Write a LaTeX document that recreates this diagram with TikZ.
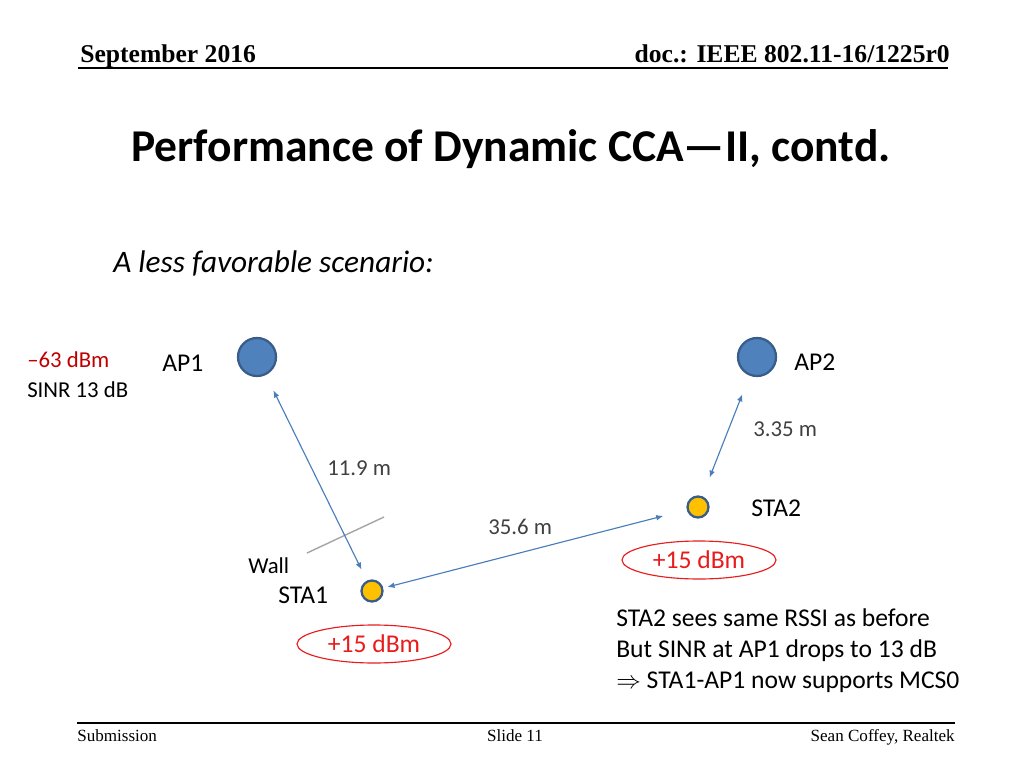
\documentclass[tikz,border=0pt]{standalone}
\usepackage{fontspec}
\setmainfont{Carlito}
\newfontfamily\timesf{Liberation Serif}
\usetikzlibrary{arrows.meta,shapes.geometric}
\definecolor{apblue}{HTML}{4F81BD}
\definecolor{apedge}{HTML}{385D8A}
\definecolor{stayel}{HTML}{FFC000}
\definecolor{arrblue}{HTML}{4A7EBB}
\definecolor{darkred}{HTML}{C00000}
\definecolor{brightred}{HTML}{E81C1C}
\definecolor{txtgray}{HTML}{404040}
\definecolor{wallgray}{HTML}{A6A6A6}
\begin{document}
\begin{tikzpicture}[x=0.703125pt,y=-0.703125pt,
  apnode/.style={circle,fill=apblue,draw=apedge,line width=1.6pt,minimum size=38*0.703125pt,inner sep=0pt},
  stanode/.style={circle,fill=stayel,draw=apedge,line width=1.6pt,minimum size=21*0.703125pt,inner sep=0pt},
  lbl/.style={anchor=base west,inner sep=0pt,font=\fontsize{18}{20}\selectfont},
  smalllbl/.style={anchor=base west,inner sep=0pt,font=\fontsize{16}{18}\selectfont},
  dist/.style={smalllbl,text=txtgray},
  link/.style={arrblue,line width=0.8pt,{Latex[length=5pt,width=4pt]}-{Latex[length=5pt,width=4pt]}},
  pwr/.style={ellipse,draw=brightred,line width=0.8pt,minimum width=154*0.703125pt,minimum height=38*0.703125pt,inner sep=0pt,text=brightred,font=\fontsize{18}{20}\selectfont},
  hdr/.style={inner sep=0pt,font=\timesf\bfseries\fontsize{18}{20}\selectfont},
  ftr/.style={inner sep=0pt,font=\timesf\fontsize{12}{14}\selectfont}]
\useasboundingbox[fill=white] (0,0) rectangle (1024,768);
% header
\node[hdr,anchor=base west] (hdate) at (80,63) {September 2016};
\node[hdr,anchor=base east] (hdoc) at (950,63) {doc.: IEEE 802.11-16/1225r0};
\draw[line width=1.4pt] (78,68) -- (948,68);
% title
\node[inner sep=0pt,anchor=base,font=\bfseries\fontsize{32}{36}\selectfont] (title) at (511,162) {Performance of Dynamic CCA\textemdash II, contd.};
\node[inner sep=0pt,anchor=base west,font=\itshape\fontsize{22}{26}\selectfont] (sub) at (113,273) {A less favorable scenario:};
% nodes
\node[apnode] (ap1) at (257,357) {};
\node[apnode] (ap2) at (757,357) {};
\node[stanode] (sta1) at (372,591) {};
\node[stanode] (sta2) at (698,507) {};
% wall
\coordinate (w1) at (307,553);
\coordinate (w2) at (384,517);
\draw[wallgray,line width=1pt] (w1) -- (w2);
% links
\draw[link,shorten <=12pt,shorten >=8.5pt] (ap1) -- (sta1);
\draw[link,shorten <=14pt,shorten >=14pt] (ap2) -- (sta2);
\draw[link,shorten <=3pt,shorten >=17pt] (sta1) -- (sta2);
% labels
\node[smalllbl,text=darkred] (rssi) at (27,367) {\textendash63 dBm};
\node[smalllbl] (sinr) at (27,397) {SINR 13 dB};
\node[lbl] (ap1l) at (162,371) {AP1};
\node[lbl] (ap2l) at (794,370) {AP2};
\node[dist] (d335) at (753,436) {3.35 m};
\node[dist] (d119) at (327,475) {11.9 m};
\node[lbl] (sta2l) at (751,516) {STA2};
\node[dist] (d356) at (488,534) {35.6 m};
\node[smalllbl] (wall) at (248,573) {Wall};
\node[lbl] (sta1l) at (278,603) {STA1};
\node[pwr] (p2) at (699,560) {+15 dBm};
\node[pwr] (p1) at (374,644) {+15 dBm};
\node[lbl] (t1) at (616,626) {STA2 sees same RSSI as before};
\node[lbl] (t2) at (616,657) {But SINR at AP1 drops to 13 dB};
\node[lbl] (t3) at (616,688) {$\Rightarrow$ STA1-AP1 now supports MCS0};
% footer
\draw[line width=1.4pt] (77,723) -- (955,723);
\node[ftr,anchor=base west] (fsub) at (77,741) {Submission};
\node[ftr,anchor=base] (fslide) at (515,741) {Slide 11};
\node[ftr,anchor=base east] (fauth) at (955,741) {Sean Coffey, Realtek};
\end{tikzpicture}
\end{document}
